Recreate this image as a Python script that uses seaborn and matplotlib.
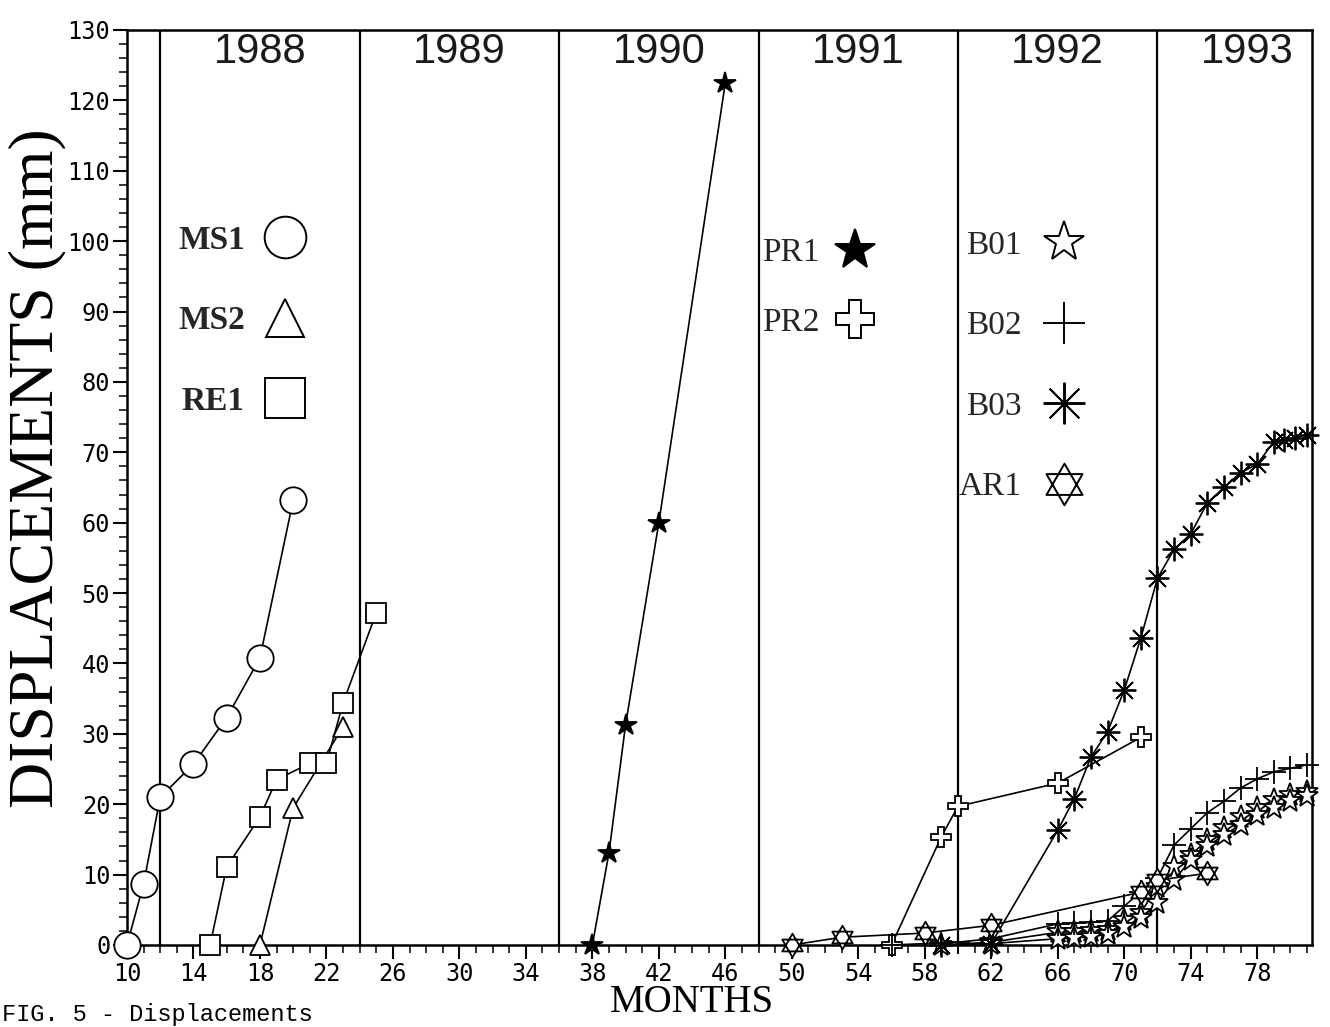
import matplotlib
matplotlib.use("Agg")
import matplotlib.pyplot as plt
from matplotlib.path import Path
from matplotlib.lines import Line2D
from matplotlib.ticker import MultipleLocator
import numpy as np
import seaborn as sns

# ---------------- data ----------------
ms1_month = [10, 11, 12, 14, 16, 18, 20]
ms1_disp = [0, 8.7, 21.0, 25.7, 32.3, 40.8, 63.2]

ms2_month = [18, 20, 23]
ms2_disp = [0, 19.5, 31.0]

re1_month = [15, 16, 18, 19, 21, 22, 23, 25]
re1_disp = [0, 11.1, 18.2, 23.5, 25.8, 25.8, 34.4, 47.2]

pr1_month = [38, 39, 40, 42, 46]
pr1_disp = [0, 13.1, 31.3, 60.0, 122.5]

pr2_month = [56, 59, 60, 66, 71]
pr2_disp = [0, 15.4, 19.7, 23.0, 29.5]

b01_month = [59, 62, 66, 67, 68, 69, 70, 71, 72, 73, 74, 75, 76, 77, 78, 79, 80, 81]
b01_disp = [0, 0.4, 1.8, 1.9, 2.0, 2.2, 3.6, 4.6, 8.3, 11.1, 12.8, 14.9, 16.6, 18.2, 19.5, 20.6, 21.3, 21.8]

b01_bis_month = [62, 66, 67, 68, 69, 70, 71, 72, 73, 74, 75, 76, 77, 78, 79, 80, 81]
b01_bis_disp = [0.2, 0.9, 1.0, 1.2, 1.5, 2.6, 3.8, 6.0, 9.2, 12.1, 14.0, 15.6, 17.1, 18.5, 19.5, 20.4, 21.1]

b02_month = [56, 59, 60, 62, 66, 67, 68, 69, 70, 71, 72, 73, 74, 75, 76, 77, 78, 79, 80, 81]
b02_disp = [0, 0.3, 0.4, 0.9, 3.0, 3.1, 3.2, 3.4, 5.5, 7.6, 9.5, 14.2, 16.5, 18.8, 20.4, 22.3, 23.6, 24.6, 25.1, 25.6]

b03_month = [59, 62, 66, 67, 68, 69, 70, 71, 72, 73, 74, 75, 76, 77, 78, 79, 79.6, 80.3, 81]
b03_disp = [0, 0.2, 16.3, 20.8, 26.7, 30.3, 36.2, 43.6, 52.1, 56.2, 58.4, 62.8, 65.0, 67.1, 68.3, 71.5, 71.8, 72.1, 72.5]

ar1_month = [50, 53, 58, 62, 71, 72, 75]
ar1_disp = [0, 1.1, 1.7, 2.8, 7.5, 9.2, 10.2]

year_labels = ["1988", "1989", "1990", "1991", "1992", "1993"]
year_starts = [12, 24, 36, 48, 60, 72]
x_ticks = list(range(10, 80, 4))
y_ticks = list(range(0, 131, 10))

# ---------------- custom markers ----------------
def _tri(angles):
    return [(np.cos(np.radians(a)), np.sin(np.radians(a))) for a in angles]
hex_verts = _tri([90, 210, 330]) + [(0, 0)] + _tri([270, 30, 150]) + [(0, 0)]
hex_codes = [Path.MOVETO, Path.LINETO, Path.LINETO, Path.CLOSEPOLY] * 2
hexagram = Path(hex_verts, hex_codes)
asterisk = (8, 2, 0)

# ---------------- style ----------------
sns.set_theme(style="ticks")
plt.rcParams["font.family"] = ["Liberation Serif", "DejaVu Sans"]

fig = plt.figure(figsize=(13.30, 10.27), dpi=100)
ax = fig.add_axes([127 / 1330, 1 - 945 / 1027, (1312 - 127) / 1330, (945 - 30) / 1027])
ax.set_facecolor("white")
fig.patch.set_facecolor("white")

common = dict(ax=ax, color="black", lw=1.2, markeredgecolor="black",
              markeredgewidth=1.3, clip_on=False, zorder=3, legend=False)

series = [
    (ms1_month, ms1_disp, "o", 19, "white"),
    (ms2_month, ms2_disp, "^", 15, "white"),
    (re1_month, re1_disp, "s", 15, "white"),
    (pr1_month, pr1_disp, "*", 16, "black"),
    (pr2_month, pr2_disp, "P", 15, "white"),
    (b01_month, b01_disp, "*", 17, "white"),
    (b01_bis_month, b01_bis_disp, "*", 17, "white"),
    (b02_month, b02_disp, "+", 17, "none"),
    (b03_month, b03_disp, asterisk, 17, "none"),
    (ar1_month, ar1_disp, hexagram, 17, "white"),
]
for xs, ys, mk, ms, fc in series:
    sns.lineplot(x=xs, y=ys, marker=mk, markersize=ms, markerfacecolor=fc, **common)

# year separators
for xs in year_starts:
    ax.axvline(xs, color="black", lw=1.6, zorder=1)

ax.set_xlim(10, 81.3)
ax.set_ylim(0, 130)

# year labels
ends = year_starts[1:] + [82.8]
for lab, s, e in zip(year_labels, year_starts, ends):
    ax.text((s + e) / 2, 0.998, lab, transform=ax.get_xaxis_transform(),
            ha="center", va="top", fontsize=30, family="Liberation Sans",
            color="#1a1a1a")

# ticks
ax.set_xticks(x_ticks)
ax.set_yticks(y_ticks)
ax.xaxis.set_minor_locator(MultipleLocator(1))
ax.yaxis.set_minor_locator(MultipleLocator(2))
ax.tick_params(axis="both", which="major", direction="out", length=10, width=1.5,
               labelsize=17, colors="black", pad=2)
ax.tick_params(axis="both", which="minor", direction="out", length=6, width=1.3)
ax.tick_params(top=False, right=False)
for lab in ax.get_xticklabels() + ax.get_yticklabels():
    lab.set_family("DejaVu Sans Mono")
for sp in ax.spines.values():
    sp.set_visible(True)
    sp.set_color("black")
    sp.set_linewidth(1.8)
ax.grid(False)

# axis titles
fig.text(37 / 1330, 1 - 468 / 1027, "DISPLACEMENTS (mm)", rotation=90,
         ha="center", va="center", fontsize=46, family="Liberation Serif", color="black")
fig.text(692 / 1330, 1 - 1003 / 1027, "MONTHS", ha="center", va="center",
         fontsize=28, family="Liberation Serif", color="black")
fig.text(2 / 1330, 1 - 1026 / 1027, "FIG. 5 - Displacements", ha="left", va="bottom",
         fontsize=17, family="Liberation Mono", color="black")

# legends
def h(mk, ms, fc):
    return Line2D([], [], ls="none", marker=mk, markersize=ms, markerfacecolor=fc,
                  markeredgecolor="black", markeredgewidth=1.4, color="black")

leg_kw = dict(frameon=False, markerfirst=False, handlelength=1.6,
              borderpad=0, borderaxespad=0, loc="upper left")

leg1 = ax.legend([h("o", 30, "white"), h("^", 28, "white"), h("s", 29, "white")],
                 ["MS1", "MS2", "RE1"], bbox_to_anchor=(0.043, 0.787), labelspacing=1.48,
                 handletextpad=0.4,
                 prop=dict(family="Liberation Serif", weight="bold", size=24), **leg_kw)
ax.add_artist(leg1)
leg2 = ax.legend([h("*", 30, "black"), h("P", 27, "white")],
                 ["PR1", "PR2"], bbox_to_anchor=(0.536, 0.773), labelspacing=1.18,
                 handletextpad=0.25,
                 prop=dict(family="Liberation Serif", size=24), **leg_kw)
ax.add_artist(leg2)
leg3 = ax.legend([h("*", 30, "white"), h("+", 30, "none"), h(asterisk, 30, "none"),
                  h(hexagram, 30, "white")],
                 ["B01", "B02", "B03", "AR1"], bbox_to_anchor=(0.702, 0.781), labelspacing=1.5,
                 handletextpad=0.45,
                 prop=dict(family="Liberation Serif", size=24), **leg_kw)

fig.savefig("out.png", dpi=100, facecolor="white")
